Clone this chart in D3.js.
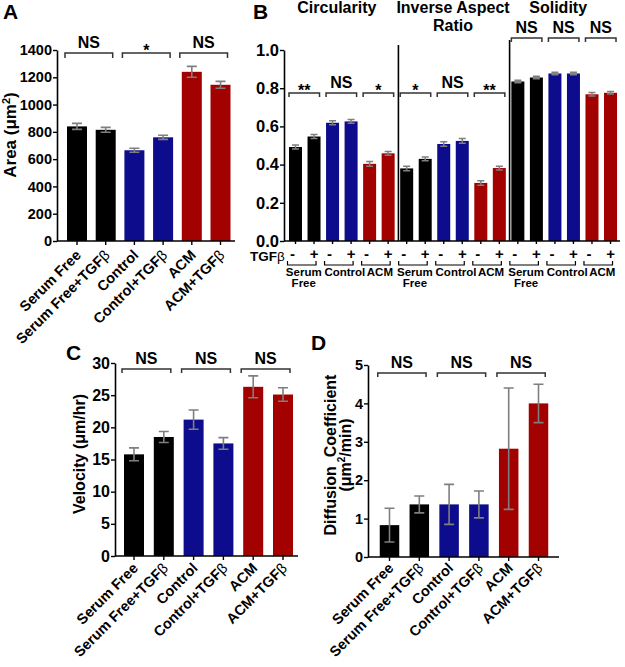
<!DOCTYPE html>
<html><head><meta charset="utf-8">
<script src="https://cdn.jsdelivr.net/npm/d3@7"></script>
<style>
body{margin:0;background:#fff}
svg{display:block}
text{font-family:"Liberation Sans",Arial,sans-serif;font-weight:bold;fill:#000}
</style>
</head><body>
<svg id="chart" width="625" height="667"></svg>
<script>
// ---------------- DATA ----------------
const groups = ["Serum Free","Serum Free+TGFβ","Control","Control+TGFβ","ACM","ACM+TGFβ"];
const groupColors = ["#000000","#000000","#0c0c8c","#0c0c8c","#a30000","#a30000"];

const areaMean = [840, 815, 665, 760, 1240, 1145];
const areaErr  = [22, 18, 15, 15, 40, 25];
const areaTicks = [0, 200, 400, 600, 800, 1000, 1200, 1400];
const areaSig = ["NS", "*", "NS"];

const velocityMean = [15.8, 18.5, 21.2, 17.5, 26.3, 25.1];
const velocityErr  = [1.0, 0.85, 1.5, 0.9, 1.7, 1.05];
const velocityTicks = [0, 5, 10, 15, 20, 25, 30];
const velocitySig = ["NS", "NS", "NS"];

const diffusionMean = [0.83, 1.37, 1.37, 1.37, 2.82, 4.0];
const diffusionErr  = [0.44, 0.22, 0.52, 0.35, 1.58, 0.5];
const diffusionTicks = [0, 1, 2, 3, 4, 5];
const diffusionSig = ["NS", "NS", "NS"];

// Panel B
const metrics = ["Circularity", "Inverse Aspect Ratio", "Solidity"];
const metricTitles = [["Circularity"], ["Inverse Aspect", "Ratio"], ["Solidity"]];
const conditions = ["Serum Free", "Control", "ACM"];
const conditionLabels = [["Serum", "Free"], ["Control"], ["ACM"]];
const treatments = ["-", "+"];
const conditionColors = ["#000000", "#0c0c8c", "#a30000"];

const circularityMean = [0.492, 0.547, 0.619, 0.626, 0.404, 0.459];
const circularityErr  = [0.010, 0.010, 0.010, 0.010, 0.012, 0.010];
const inverseAspectMean = [0.380, 0.430, 0.508, 0.524, 0.304, 0.382];
const inverseAspectErr  = [0.012, 0.010, 0.012, 0.012, 0.012, 0.010];
const solidityMean = [0.835, 0.856, 0.877, 0.877, 0.768, 0.776];
const solidityErr  = [0.007, 0.006, 0.006, 0.006, 0.009, 0.007];
const shapeTicks = [0, 0.2, 0.4, 0.6, 0.8, 1.0];
const circularitySig = ["**", "NS", "*"];
const inverseAspectSig = ["*", "NS", "**"];
const soliditySig = ["NS", "NS", "NS"];

// ---------------- HELPERS ----------------
const svg = d3.select("#chart");
const ERR = "#7f7f7f";

function bandScale(domain, r0, firstCenter, step, bw) {
  const n = domain.length;
  const pi = 1 - bw / step;
  const po = (firstCenter - bw / 2 - r0) / step;
  return d3.scaleBand().domain(domain)
    .range([r0, r0 + step * (n - pi + 2 * po)])
    .paddingInner(pi).paddingOuter(po);
}

function addLabelText(textSel, label) {
  const i = label.indexOf("β");
  if (i < 0) { textSel.text(label); return; }
  textSel.append("tspan").text(label.slice(0, i));
  textSel.append("tspan").attr("font-weight", "normal").style("font-weight", "normal").text("β");
}

function drawBracket(g, x1, x2, y, leg) {
  g.append("path")
    .attr("d", `M${x1},${y + leg}V${y}H${x2}V${y + leg}`)
    .attr("fill", "none").attr("stroke", "#333").attr("stroke-width", 1.5);
}

function drawSig(g, label, cx, y, size) {
  const isStar = label.indexOf("*") >= 0;
  g.append("text")
    .attr("x", cx).attr("y", isStar ? y + 3 : y - 5)
    .attr("text-anchor", "middle")
    .attr("font-size", size)
    .text(label);
}

function styleAxis(a, fontSize) {
  a.selectAll("path.domain").attr("stroke", "#000").attr("stroke-width", 1.6);
  a.selectAll(".tick line").attr("stroke", "#000").attr("stroke-width", 1.4);
  a.selectAll(".tick text").attr("font-size", fontSize)
    .style("font-family", '"Liberation Sans", Arial, sans-serif').style("font-weight", "bold").attr("fill", "#000");
}

function drawGroupPanel(cfg) {
  const g = svg.append("g");
  const x = bandScale(groups, cfg.axisX, cfg.firstCenter, cfg.step, cfg.bw);
  const y = d3.scaleLinear().domain(cfg.yDomain).range(cfg.yRange);
  const y0 = y(0);

  // bars
  g.selectAll("rect.bar").data(groups).join("rect")
    .attr("x", d => x(d)).attr("width", x.bandwidth())
    .attr("y", (d, i) => y(cfg.means[i]))
    .attr("height", (d, i) => y0 - y(cfg.means[i]))
    .attr("fill", (d, i) => groupColors[i]);

  // error bars
  const cap = cfg.cap;
  groups.forEach((d, i) => {
    const cx = x(d) + x.bandwidth() / 2;
    const yt = y(cfg.means[i] + cfg.errs[i]);
    const yb = y(cfg.means[i] - cfg.errs[i]);
    g.append("path")
      .attr("d", `M${cx},${yt}V${yb}M${cx - cap / 2},${yt}H${cx + cap / 2}M${cx - cap / 2},${yb}H${cx + cap / 2}`)
      .attr("stroke", ERR).attr("stroke-width", 1.6).attr("fill", "none");
  });

  // y axis
  const ya = g.append("g").attr("transform", `translate(${cfg.axisX},0)`)
    .call(d3.axisLeft(y).tickValues(cfg.ticks).tickSize(4).tickSizeOuter(0).tickPadding(1).tickFormat(d3.format("d")));
  styleAxis(ya, cfg.tickFont);

  // x axis
  const xa = g.append("g").attr("transform", `translate(0,${y0})`)
    .call(d3.axisBottom(x).tickSize(4).tickSizeOuter(0).tickFormat(""));
  xa.select("path.domain").remove();
  styleAxis(xa, cfg.tickFont);
  g.append("line").attr("x1", cfg.axisX).attr("x2", cfg.axisEnd).attr("y1", y0).attr("y2", y0)
    .attr("stroke", "#000").attr("stroke-width", 1.6);

  // x labels
  groups.forEach((d, i) => {
    const cx = x(d) + x.bandwidth() / 2;
    const t = g.append("text")
      .attr("transform", `translate(${cx + cfg.labDx},${y0 + cfg.labDy}) rotate(-45)`)
      .attr("text-anchor", "end").attr("font-size", cfg.labFont);
    addLabelText(t, d);
  });

  // significance brackets
  cfg.sig.forEach((s, k) => {
    const a = groups[2 * k], b = groups[2 * k + 1];
    const x1 = x(a) - 2, x2 = x(b) + x.bandwidth() - 3;
    drawBracket(g, x1, x2, cfg.bracketY, cfg.leg);
    drawSig(g, s, (x1 + x2) / 2, cfg.bracketY, 16);
  });

  // y title
  const tt = g.append("text")
    .attr("transform", `translate(${cfg.titleX},${cfg.titleY}) rotate(-90)`)
    .attr("text-anchor", "middle").attr("font-size", cfg.titleFont)
    .style("white-space", "pre");
  cfg.title(tt);

  // panel letter
  g.append("text").attr("x", cfg.letterX).attr("y", cfg.letterY)
    .attr("font-size", 21).text(cfg.letter);
}

// ---------------- PANEL A ----------------
drawGroupPanel({
  axisX: 57, firstCenter: 77, step: 28.7, bw: 20, axisEnd: 235,
  yDomain: [0, 1400], yRange: [241, 50], ticks: areaTicks, tickFont: 14.5,
  means: areaMean, errs: areaErr, sig: areaSig, cap: 10,
  bracketY: 53, leg: 5, labDx: 5, labDy: 15, labFont: 14.5,
  titleX: 16, titleY: 135, titleFont: 17,
  title: t => { t.append("tspan").text("Area (μm"); t.append("tspan").attr("font-size", 11).attr("dy", -6).text("2"); t.append("tspan").attr("dy", 6).text(")"); },
  letter: "A", letterX: 3, letterY: 19
});

// ---------------- PANEL C ----------------
drawGroupPanel({
  axisX: 115, firstCenter: 134, step: 29.8, bw: 20, axisEnd: 298,
  yDomain: [0, 30], yRange: [556, 363], ticks: velocityTicks, tickFont: 16,
  means: velocityMean, errs: velocityErr, sig: velocitySig, cap: 10,
  bracketY: 369, leg: 4, labDx: 5, labDy: 13, labFont: 14.5,
  titleX: 85, titleY: 454, titleFont: 16,
  title: t => t.text("Velocity (μm/hr)"),
  letter: "C", letterX: 66, letterY: 360
});

// ---------------- PANEL D ----------------
drawGroupPanel({
  axisX: 368, firstCenter: 389.5, step: 29.8, bw: 19.5, axisEnd: 559,
  yDomain: [0, 5], yRange: [557, 365], ticks: diffusionTicks, tickFont: 14.5,
  means: diffusionMean, errs: diffusionErr, sig: diffusionSig, cap: 10,
  bracketY: 373, leg: 4, labDx: 5, labDy: 12, labFont: 14.5,
  titleX: 336, titleY: 455, titleFont: 16,
  title: t => {
    t.append("tspan").attr("x", 0).attr("dy", 0).text("Diffusion  Coefficient");
    const s = t.append("tspan").attr("x", 0).attr("dy", 15);
    s.append("tspan").text("(μm");
    s.append("tspan").attr("font-size", 10).attr("dy", -6).text("2");
    s.append("tspan").attr("dy", 6).text("/min)");
  },
  letter: "D", letterX: 311, letterY: 350
});

// ---------------- PANEL B ----------------
(function () {
  const g = svg.append("g");
  const keys = [];
  metrics.forEach(m => conditions.forEach(c => treatments.forEach(t => keys.push(m + "|" + c + "|" + t))));
  const meansByMetric = [circularityMean, inverseAspectMean, solidityMean];
  const errsByMetric = [circularityErr, inverseAspectErr, solidityErr];
  const sigByMetric = [circularitySig, inverseAspectSig, soliditySig];
  const bracketYs = [93, 93, 38];
  const titleShift = [-5, 0, -6];
  const condLabelShift = [-1, 3, 1];
  const axisX = 284, axisEnd = 620;
  const x = bandScale(keys, axisX, 295.5, 18.53, 13);
  const y = d3.scaleLinear().domain([0, 1]).range([241, 50]);
  const y0 = y(0);
  const bw = x.bandwidth();

  const rows = keys.map((k, i) => {
    const mi = Math.floor(i / 6), ci = Math.floor((i % 6) / 2), ti = i % 2;
    return { k, mi, ci, ti, v: meansByMetric[mi][ci * 2 + ti], e: errsByMetric[mi][ci * 2 + ti] };
  });

  g.selectAll("rect.bar").data(rows).join("rect")
    .attr("x", d => x(d.k)).attr("width", bw)
    .attr("y", d => y(d.v)).attr("height", d => y0 - y(d.v))
    .attr("fill", d => conditionColors[d.ci]);

  rows.forEach(d => {
    const cx = x(d.k) + bw / 2, yt = y(d.v + d.e), yb = y(d.v - d.e), cap = 7;
    g.append("path")
      .attr("d", `M${cx},${yt}V${yb}M${cx - cap / 2},${yt}H${cx + cap / 2}M${cx - cap / 2},${yb}H${cx + cap / 2}`)
      .attr("stroke", ERR).attr("stroke-width", 1.5).attr("fill", "none");
  });

  const ya = g.append("g").attr("transform", `translate(${axisX},0)`)
    .call(d3.axisLeft(y).tickValues(shapeTicks).tickSize(4).tickSizeOuter(0).tickPadding(1).tickFormat(d3.format(".1f")));
  styleAxis(ya, 16.5);

  const xa = g.append("g").attr("transform", `translate(0,${y0})`)
    .call(d3.axisBottom(x).tickSize(3).tickSizeOuter(0).tickFormat(""));
  xa.select("path.domain").remove();
  styleAxis(xa, 12);
  g.append("line").attr("x1", axisX).attr("x2", axisEnd).attr("y1", y0).attr("y2", y0)
    .attr("stroke", "#000").attr("stroke-width", 1.6);

  // dividers between metrics
  [6, 12].forEach((idx, j) => {
    const xd = (x(keys[idx - 1]) + bw + x(keys[idx])) / 2 + 1;
    g.append("line").attr("x1", xd).attr("x2", xd).attr("y1", j === 0 ? 45 : 40).attr("y2", y0)
      .attr("stroke", "#000").attr("stroke-width", 1.6);
  });

  // metric titles
  metricTitles.forEach((lines, mi) => {
    const first = x(keys[mi * 6]), last = x(keys[mi * 6 + 5]) + bw;
    const cx = (first + last) / 2 + titleShift[mi];
    lines.forEach((ln, li) => {
      g.append("text").attr("x", cx).attr("y", 13 + li * 18)
        .attr("text-anchor", "middle").attr("font-size", 16).text(ln);
    });
  });

  // brackets + significance
  metrics.forEach((m, mi) => {
    conditions.forEach((c, ci) => {
      const a = keys[mi * 6 + ci * 2], b = keys[mi * 6 + ci * 2 + 1];
      const x1 = x(a), x2 = x(b) + bw - 1;
      drawBracket(g, x1, x2, bracketYs[mi], 4);
      drawSig(g, sigByMetric[mi][ci], (x1 + x2) / 2, bracketYs[mi], 16);
    });
  });

  // TGFβ row
  const tg = g.append("text").attr("x", 250).attr("y", 261).attr("font-size", 13.5);
  addLabelText(tg, "TGFβ");
  rows.forEach(d => {
    g.append("text").attr("x", x(d.k) + bw / 2 - (d.ti === 0 ? 3 : 0)).attr("y", 259)
      .attr("text-anchor", "middle").attr("font-size", 15).text(treatments[d.ti]);
  });
  metrics.forEach((m, mi) => {
    conditions.forEach((c, ci) => {
      const a = keys[mi * 6 + ci * 2], b = keys[mi * 6 + ci * 2 + 1];
      const c1 = x(a) + bw / 2, c2 = x(b) + bw / 2;
      g.append("path").attr("d", `M${c1 - 8},${261}V${265}H${c2 + 2}V${261}`)
        .attr("fill", "none").attr("stroke", "#000").attr("stroke-width", 1.2);
      conditionLabels[ci].forEach((ln, li) => {
        g.append("text").attr("x", (c1 + c2) / 2 + condLabelShift[ci]).attr("y", 276 + li * 11)
          .attr("text-anchor", "middle").attr("font-size", 11.5).text(ln);
      });
    });
  });

  g.append("text").attr("x", 253).attr("y", 19).attr("font-size", 21).text("B");
})();
</script>
</body></html>
